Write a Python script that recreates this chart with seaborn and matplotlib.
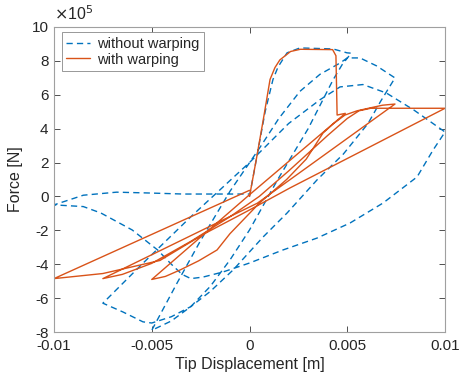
import matplotlib
matplotlib.use("Agg")
import matplotlib.pyplot as plt
import pandas as pd
import seaborn as sns

# tip displacement in mm, force in units of 1e5 N
disp_warp = [0, 0.35, 0.7, 1.05, 1.3, 1.55, 2.1, 2.6, 4.25, 4.42, 4.48, 4.9,
             0, -5.0,
             -4.3, -3.55, -2.6, -1.66, -1.0, 0.5, 1.9, 2.9, 3.76, 4.3, 4.88, 5.5, 6.16, 6.8, 7.44,
             0.4, -7.5,
             -6.5, -5.0, -3.0, -1.0, 0.5, 2.0, 4.0, 5.0, 5.6, 6.2, 10.0,
             2.07, 0.0, -2.3, -4.58, -7.5, -10.0,
             -3.04, 0.0]
force_warp = [0, 2.2, 4.5, 6.9, 7.6, 8.05, 8.55, 8.68, 8.66, 8.3, 4.8, 4.9,
              0.1, -4.9,
              -4.72, -4.34, -3.8, -3.16, -2.2, -0.4, 1.0, 2.2, 3.74, 4.3, 4.8, 5.05, 5.22, 5.38, 5.45,
              -0.4, -4.85,
              -4.6, -3.95, -2.65, -1.2, 0.0, 1.5, 3.6, 4.6, 5.05, 5.2, 5.2,
              0.5, -0.8, -2.2, -3.78, -4.55, -4.85,
              -1.22, 0.36]

disp_nowarp = [0, 0.4, 0.8, 1.2, 1.46, 1.92, 2.58, 4.27, 4.99, 5.2,
               4.73, 4.27, 3.0, 1.43, 0.0, -1.0, -2.0, -3.0, -4.0, -5.0,
               -3.7, -2.5, -1.0, 0.54, 1.5, 2.58, 3.6, 4.63, 5.0, 5.65, 6.5, 7.44,
               6.7, 6.06, 4.8, 3.45, 1.92, 0.69, -0.84, -2.0, -3.0, -4.0, -5.0, -5.45, -6.47, -7.5,
               -5.5, -3.0, 0.0, 2.0, 3.6, 4.63, 5.8, 7.0, 8.4, 10.0,
               9.39, 8.57, 6.83, 5.14, 3.45, 1.71, 0.0, -1.36, -2.38, -3.0, -3.45, -4.0, -4.7, -6.0, -7.6, -8.5, -10.0,
               -8.5, -6.8, -5.1, -3.4, 0.0]
force_nowarp = [0, 2.5, 5.0, 6.9, 7.64, 8.47, 8.76, 8.70, 8.47, 8.45,
                7.76, 6.87, 4.0, 0.97, -1.98, -3.75, -5.3, -6.5, -7.35, -7.9,
                -5.1, -2.6, 0.3, 2.9, 4.6, 6.2, 7.2, 7.87, 8.17, 8.17, 7.7, 6.99,
                5.6, 4.3, 2.5, 0.97, -0.98, -2.4, -4.34, -5.6, -6.5, -7.1, -7.47, -7.4, -6.82, -6.3,
                -4.0, -1.2, 2.0, 4.3, 5.7, 6.46, 6.6, 6.1, 5.1, 3.8,
                2.74, 1.15, -0.39, -1.57, -2.46, -3.16, -3.93, -4.46, -4.76, -4.85, -4.6, -4.0, -3.16, -1.98, -0.98, -0.6, -0.5,
                0.07, 0.25, 0.2, 0.14, 0.14]

label_nowarp = "without warping"
label_warp = "with warping"
xticks = [-0.01, -0.005, 0, 0.005, 0.01]
xticklabels = ["-0.01", "-0.005", "0", "0.005", "0.01"]
yticks = [-8, -6, -4, -2, 0, 2, 4, 6, 8, 10]

df = pd.concat([
    pd.DataFrame({"disp": [d / 1000 for d in disp_nowarp], "force": force_nowarp,
                  "case": label_nowarp}),
    pd.DataFrame({"disp": [d / 1000 for d in disp_warp], "force": force_warp,
                  "case": label_warp}),
], ignore_index=True)

sns.set_theme(style="white")
plt.rcParams["font.family"] = ["Liberation Sans", "DejaVu Sans"]
plt.rcParams["axes.unicode_minus"] = False

fig = plt.figure(figsize=(4.59, 3.79), dpi=100)
ax = fig.add_axes([0.1176, 0.124, 0.852, 0.805])

sns.lineplot(data=df, x="disp", y="force", hue="case", style="case",
             sort=False, estimator=None, ax=ax, linewidth=1.0,
             palette={label_nowarp: "#0072BD", label_warp: "#D95319"},
             dashes={label_nowarp: (4.5, 3), label_warp: ""})

ax.set_xlim(-0.01, 0.01)
ax.set_ylim(-8, 10)
ax.set_xticks(xticks)
ax.set_xticklabels(xticklabels)
ax.set_yticks(yticks)
ax.set_yticklabels([str(t) for t in yticks])
ax.set_xlabel("Tip Displacement [m]", fontsize=11.5, labelpad=3)
ax.set_ylabel("Force [N]", fontsize=11.5, labelpad=6)
ax.tick_params(direction="in", length=4, width=0.6, color="#333333",
               labelsize=11, top=True, right=True, bottom=True, left=True)
ax.tick_params(axis="x", pad=5)
ax.tick_params(axis="y", pad=4)
for s in ax.spines.values():
    s.set_color("#a0a0a0")
    s.set_linewidth(0.8)

ax.text(0.0, 1.012, r"$\times$10$^5$", transform=ax.transAxes, fontsize=11.5,
        ha="left", va="bottom")

leg = ax.legend(loc="upper left", bbox_to_anchor=(0.02, 0.982), fontsize=10.5,
                frameon=True, fancybox=False, edgecolor="#888888", framealpha=1,
                handlelength=1.6, borderpad=0.3, labelspacing=0.12,
                handletextpad=0.5, borderaxespad=0)
leg.get_frame().set_linewidth(0.6)

fig.savefig("out.png", dpi=100)
